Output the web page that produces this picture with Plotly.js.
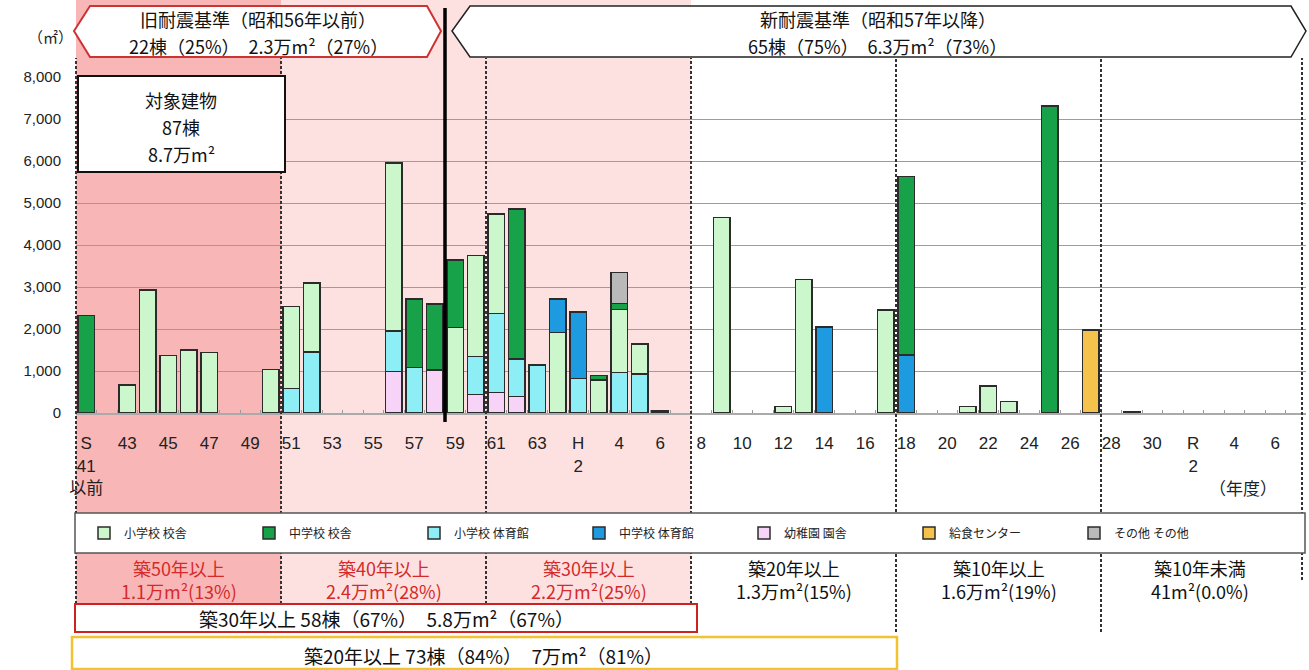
<!DOCTYPE html>
<html><head><meta charset="utf-8">
<script src="https://cdn.plot.ly/plotly-3.0.1.min.js"></script>
<style>html,body{margin:0;padding:0;background:#fff}#chart{width:1309px;height:670px}</style>
</head><body><div id="chart"></div>
<script>
// ---- categories (fiscal years) ----
const categories = ['S41','S42','S43','S44','S45','S46','S47','S48','S49','S50',
  'S51','S52','S53','S54','S55','S56','S57','S58','S59','S60','S61','S62','S63',
  'H1','H2','H3','H4','H5','H6','H7','H8','H9','H10','H11','H12','H13','H14','H15','H16','H17',
  'H18','H19','H20','H21','H22','H23','H24','H25','H26','H27','H28','H29','H30',
  'R1','R2','R3','R4','R5','R6'];
const tickCats  = ['S41','S43','S45','S47','S49','S51','S53','S55','S57','S59','S61','S63','H2','H4','H6','H8','H10','H12','H14','H16','H18','H20','H22','H24','H26','H28','H30','R2','R4','R6'];
const tickTexts = ['S<br>41<br>以前','43','45','47','49','51','53','55','57','59','61','63','H<br>2','4','6','8','10','12','14','16','18','20','22','24','26','28','30','R<br>2','4','6'];

// ---- series (㎡), listed in stacking order bottom -> top ----
const kinderCats = ['S56','S58','S60','S61','S62'];
const kinderVals = [990,1020,445,490,390];
const elemGymCats = ['S51','S52','S56','S57','S60','S61','S62','S63','H2','H4','H5'];
const elemGymVals = [580,1450,960,1080,895,1880,890,1140,825,960,930];
const elemSchCats = ['S43','S44','S45','S46','S47','S50','S51','S52','S56','S59','S60','S61','H1','H3','H4','H5','H6','H9','H12','H13','H17','H21','H22','H23','H29'];
const elemSchVals = [670,2930,1370,1500,1440,1040,1960,1650,4000,2030,2405,2370,1920,785,1510,710,45,4650,160,3180,2450,150,640,270,41];
const juniorGymCats = ['H1','H2','H14','H18'];
const juniorGymVals = [800,1585,2050,1380];
const juniorSchCats = ['S41','S57','S58','S59','S62','H3','H4','H18','H25'];
const juniorSchVals = [2320,1630,1580,1610,3580,105,140,4250,7310];
const otherCats = ['H4'];
const otherVals = [740];
const lunchCats = ['H27'];
const lunchVals = [1980];

const yTicks = [0,1000,2000,3000,4000,5000,6000,7000,8000];

// ---- geometry helpers ----
const W=1309,H=670,L=76,R=3,T=77,B=257;
const pw=W-L-R, ph=H-T-B;
const X = px => (px-L)/pw;
const Y = py => (H-B-py)/ph;
const XI = idx => (idx+0.5)/60;
const F = "'Liberation Sans', Arial, 'Noto Sans CJK JP', sans-serif";
const J = "'Noto Sans CJK JP', 'Liberation Sans', sans-serif";

function bar(name, cats, vals, color, rank){
  return {type:'bar', name:name, x:cats, y:vals, width:0.8, legendrank:rank,
    marker:{color:color, line:{color:'#2b2b2b', width:1.5}}, hoverinfo:'skip'};
}
const traces = [
  bar('幼稚園 園舎', kinderCats, kinderVals, '#f7d4f7', 5),
  bar('小学校 体育館', elemGymCats, elemGymVals, '#8eeef6', 3),
  bar('小学校 校舎', elemSchCats, elemSchVals, '#ccf6cc', 1),
  bar('中学校 体育館', juniorGymCats, juniorGymVals, '#1e9be0', 4),
  bar('中学校 校舎', juniorSchCats, juniorSchVals, '#17a24a', 2),
  bar('その他 その他', otherCats, otherVals, '#b9b9b9', 7),
  bar('給食センター', lunchCats, lunchVals, '#f5c34c', 6)
];

function rect(x0,y0,x1,y1,o){return Object.assign({type:'rect',xref:'paper',yref:'paper',x0:X(x0),x1:X(x1),y0:Y(y1),y1:Y(y0)},o);}
function vline(xp,y0,y1,o){return Object.assign({type:'line',xref:'paper',yref:'paper',x0:xp,x1:xp,y0:Y(y1),y1:Y(y0)},o);}
function poly(pts,o){return Object.assign({type:'path',xref:'paper',yref:'paper',
  path:'M'+pts.map(p=>X(p[0]).toFixed(5)+','+Y(p[1]).toFixed(5)).join('L')+'Z'},o);}
const dash = {color:'#333', width:2, dash:'3px,2px'};

const shapes = [
  rect(76,0,281,603,{layer:'below', fillcolor:'#f8b6b6', line:{width:0}}),
  rect(281,0,691,603,{layer:'below', fillcolor:'#fde1e1', line:{width:0}}),
  vline(XI(-0.5),58,604,{layer:'above', line:dash}),
  vline(XI(9.5),58,604,{layer:'above', line:dash}),
  vline(XI(19.5),58,604,{layer:'above', line:dash}),
  vline(XI(29.5),58,604,{layer:'above', line:dash}),
  vline(XI(39.5),58,632,{layer:'above', line:dash}),
  vline(XI(49.5),58,632,{layer:'above', line:dash}),
  vline(X(1302),58,580,{layer:'above', line:dash}),
  vline(XI(17.5),8,422,{layer:'above', line:{color:'#000', width:3.5}}),
  poly([[74,31],[90,6],[427,6],[441,31],[427,57],[90,57]],{layer:'above', fillcolor:'#fff', line:{color:'#cc3333', width:2}}),
  poly([[452,31],[470,6],[1291,6],[1306,31],[1291,57],[470,57]],{layer:'above', fillcolor:'#fff', line:{color:'#222', width:1.5}}),
  rect(78,76,285,172,{layer:'above', fillcolor:'#fff', line:{color:'#111', width:2}}),
  rect(75,513,1305,553,{layer:'above', fillcolor:'#fff', line:{color:'#555', width:1.5}}),
  rect(75,604,697,632,{layer:'above', fillcolor:'#fff', line:{color:'#cc2222', width:2}}),
  rect(72,637,897,669,{layer:'above', fillcolor:'#fff', line:{color:'#f2c230', width:2.5}})
];

function txt(text,xp,py,size,color,o){return Object.assign({text:text,xref:'paper',yref:'paper',x:xp,y:Y(py),
  showarrow:false,xanchor:'center',yanchor:'middle',font:{family:J,size:size,color:color||'#111'}},o);}
const red='#d42a2a';
const annotations = [
  txt('（㎡）',X(50),37,15,'#222'),
  txt('旧耐震基準（昭和56年以前）',X(258),18.5,18),
  txt('22棟（25%）　2.3万m²（27%）',X(258),45.5,18),
  txt('新耐震基準（昭和57年以降）',X(878),18.5,18),
  txt('65棟（75%）　6.3万m²（73%）',X(878),45.5,18),
  txt('対象建物',X(181),100,18),
  txt('87棟',X(181),127,18),
  txt('8.7万m²',X(181),154,18),
  txt('（年度）',X(1243),487,17,'#222'),
  txt('築50年以上<br>1.1万m²(13%)',XI(4.5),579,18,red),
  txt('築40年以上<br>2.4万m²(28%)',XI(14.5),579,18,red),
  txt('築30年以上<br>2.2万m²(25%)',XI(24.5),579,18,red),
  txt('築20年以上<br>1.3万m²(15%)',XI(34.5),579,18),
  txt('築10年以上<br>1.6万m²(19%)',XI(44.5),579,18),
  txt('築10年未満<br>41m²(0.0%)',X(1200),579,18),
  txt('築30年以上 58棟（67%）　5.8万m²（67%）',X(386),618,19),
  txt('築20年以上 73棟（84%）　7万m²（81%）',X(483),655,19)
];

const tickTextAll = categories.map(c => { const k = tickCats.indexOf(c); return k >= 0 ? tickTexts[k] : ''; });

const layout = {
  width:W, height:H, margin:{l:L,r:R,t:T,b:B,pad:0},
  paper_bgcolor:'#fff', plot_bgcolor:'rgba(0,0,0,0)',
  barmode:'stack', showlegend:true,
  font:{family:F, color:'#222'},
  xaxis:{type:'category', categoryorder:'array', categoryarray:categories, range:[-0.5,59.5],
    tickmode:'array', tickvals:categories, ticktext:tickTextAll, tickson:'boundaries', tickangle:0,
    ticks:'inside', ticklen:3, tickcolor:'#999', tickwidth:1, ticklabelstandoff:14,
    tickfont:{family:F, size:17, color:'#222'}, showgrid:false, showline:true, linecolor:'#aaa', linewidth:2,
    fixedrange:true, zeroline:false},
  yaxis:{range:[0,8000], tickmode:'array', tickvals:yTicks, tickformat:',d',
    tickfont:{family:F, size:15, color:'#222'}, showgrid:true, gridcolor:'#9c9c9c', gridwidth:1,
    zeroline:false, showline:false, ticks:'', ticklabelstandoff:14, fixedrange:true},
  legend:{orientation:'h', x:X(84), xanchor:'left', y:Y(533), yanchor:'middle',
    entrywidth:120, entrywidthmode:'pixels', traceorder:'normal',
    font:{family:J, size:12, color:'#222'}, bgcolor:'rgba(0,0,0,0)', borderwidth:0},
  shapes:shapes, annotations:annotations
};
Plotly.newPlot('chart', traces, layout, {staticPlot:true, displayModeBar:false});
</script>
</body></html>
